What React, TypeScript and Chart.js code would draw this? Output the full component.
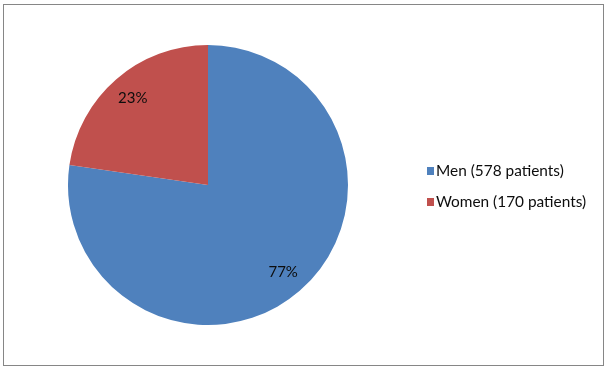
import React, { useEffect, useRef } from "react";
import { Chart, registerables } from "chart.js";

Chart.register(...registerables);

const categories = ["Men (578 patients)", "Women (170 patients)"];
const values = [578, 170];
const percentLabels = ["77%", "23%"];
const colors = ["#4F81BD", "#C0504D"];

const FONT = "Lato, 'Open Sans', sans-serif";

const decorPlugin = {
  id: "decor",
  afterDraw(chart: any) {
    const ctx = chart.ctx as CanvasRenderingContext2D;
    ctx.save();
    // outer frame
    ctx.strokeStyle = "#868686";
    ctx.lineWidth = 1;
    ctx.strokeRect(3.5, 4.5, 600, 361);

    // percent labels
    const meta = chart.getDatasetMeta(0);
    ctx.fillStyle = "#0d0d0d";
    ctx.font = `15px ${FONT}`;
    ctx.textAlign = "center";
    ctx.textBaseline = "middle";
    meta.data.forEach((arc: any, i: number) => {
      const mid = (arc.startAngle + arc.endAngle) / 2;
      const r = arc.outerRadius * 0.82;
      ctx.fillText(percentLabels[i], arc.x + Math.cos(mid) * r, arc.y + Math.sin(mid) * r);
    });

    // legend
    ctx.textAlign = "left";
    ctx.font = `15.4px ${FONT}`;
    const lx = 427;
    const ly = 171;
    const gap = 31;
    categories.forEach((c, i) => {
      const y = ly + i * gap;
      ctx.fillStyle = colors[i];
      ctx.fillRect(lx, y - 4, 7, 8);
      ctx.fillStyle = "#0d0d0d";
      ctx.fillText(c, lx + 9, y);
    });
    ctx.restore();
  },
};

export default function App() {
  const ref = useRef<HTMLCanvasElement>(null);
  useEffect(() => {
    if (!ref.current) return;
    const chart = new Chart(ref.current, {
      type: "pie",
      data: {
        labels: categories,
        datasets: [
          {
            data: values,
            backgroundColor: colors,
            borderWidth: 0,
          },
        ],
      },
      options: {
        animation: false,
        responsive: false,
        maintainAspectRatio: false,
        layout: { padding: { left: 68, right: 262, top: 45, bottom: 45 } },
        plugins: {
          legend: { display: false },
          tooltip: { enabled: false },
        },
      },
      plugins: [decorPlugin],
    });
    return () => chart.destroy();
  }, []);
  return (
    <div style={{ position: "fixed", left: 0, top: 0, width: 610, height: 370, background: "#fff" }}>
      <canvas ref={ref} width={610} height={370} style={{ width: 610, height: 370 }} />
    </div>
  );
}
